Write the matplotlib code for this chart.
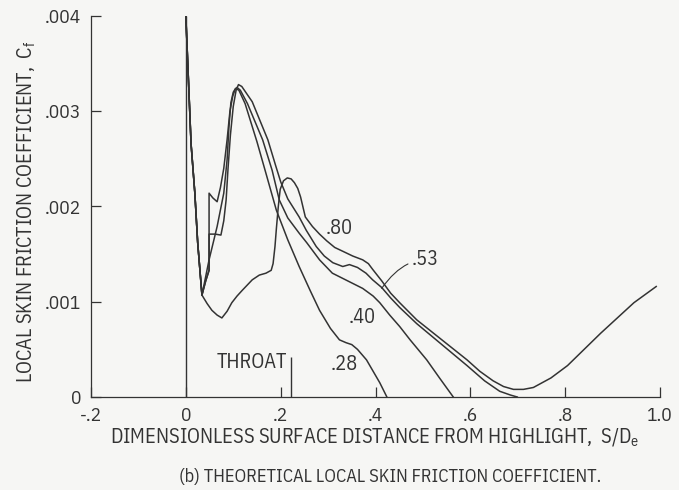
import matplotlib
matplotlib.use('Agg')
import matplotlib.pyplot as plt

# surface distance S/De and local skin friction Cf, one pair per throat Mach number
s_28 = [0.0, 0.011, 0.019, 0.025, 0.034, 0.049, 0.066, 0.080, 0.087, 0.091, 0.095, 0.100,
        0.105, 0.112, 0.125, 0.150, 0.170, 0.191, 0.215, 0.239, 0.262, 0.282, 0.305, 0.324,
        0.338, 0.350, 0.362, 0.381, 0.395, 0.409, 0.418, 0.424]
cf_28 = [0.0040, 0.00266, 0.00214, 0.00162, 0.00107, 0.00144, 0.00179, 0.00214, 0.00249,
         0.00284, 0.00309, 0.00320, 0.00324, 0.00322, 0.00308, 0.00268, 0.00233, 0.00196,
         0.00165, 0.00137, 0.00112, 0.00091, 0.00072, 0.00060, 0.00057, 0.00055, 0.00050,
         0.00039, 0.00027, 0.00015, 0.00006, 0.0]

s_40 = [0.0, 0.011, 0.019, 0.025, 0.034, 0.042, 0.049, 0.049, 0.057, 0.066, 0.073, 0.080,
        0.087, 0.093, 0.099, 0.104, 0.108, 0.115, 0.130, 0.162, 0.182, 0.197, 0.215, 0.239,
        0.255, 0.282, 0.309, 0.345, 0.373, 0.395, 0.409, 0.430, 0.451, 0.473, 0.508, 0.535,
        0.564]
cf_40 = [0.0040, 0.00266, 0.00214, 0.00162, 0.00107, 0.00122, 0.00133, 0.00214, 0.00209,
         0.00205, 0.00220, 0.00240, 0.00270, 0.00300, 0.00316, 0.00323, 0.00325, 0.00322,
         0.00308, 0.00270, 0.00238, 0.00207, 0.00188, 0.00172, 0.00162, 0.00144, 0.00130,
         0.00121, 0.00114, 0.00106, 0.00099, 0.00086, 0.00074, 0.00060, 0.00039, 0.00020, 0.0]

s_53 = [0.0, 0.011, 0.019, 0.025, 0.034, 0.042, 0.049, 0.049, 0.062, 0.074, 0.080, 0.085,
        0.089, 0.094, 0.100, 0.106, 0.111, 0.118, 0.140, 0.173, 0.190, 0.200, 0.215, 0.239,
        0.254, 0.275, 0.292, 0.310, 0.331, 0.345, 0.362, 0.380, 0.394, 0.413, 0.432, 0.451,
        0.487, 0.540, 0.593, 0.630, 0.662, 0.685, 0.699]
cf_53 = [0.0040, 0.00266, 0.00214, 0.00162, 0.00107, 0.00122, 0.00133, 0.00171, 0.00171,
         0.00170, 0.00185, 0.00207, 0.00240, 0.00275, 0.00305, 0.00322, 0.00328, 0.00326,
         0.00310, 0.00270, 0.00242, 0.00226, 0.00208, 0.00189, 0.00175, 0.00158, 0.00148,
         0.00141, 0.00137, 0.00139, 0.00136, 0.00130, 0.00123, 0.00115, 0.00104, 0.00094,
         0.00077, 0.00055, 0.00033, 0.00017, 0.00006, 0.00002, 0.0]

s_80 = [0.0, 0.011, 0.019, 0.025, 0.034, 0.045, 0.055, 0.066, 0.076, 0.087, 0.097, 0.108,
        0.119, 0.140, 0.155, 0.169, 0.180, 0.184, 0.188, 0.191, 0.195, 0.199, 0.206, 0.214,
        0.222, 0.229, 0.236, 0.242, 0.252, 0.267, 0.282, 0.297, 0.314, 0.331, 0.352, 0.373,
        0.385, 0.394, 0.413, 0.432, 0.451, 0.487, 0.540, 0.593, 0.620, 0.648, 0.670, 0.691,
        0.712, 0.733, 0.770, 0.805, 0.840, 0.875, 0.910, 0.945, 0.992]
cf_80 = [0.0040, 0.00266, 0.00214, 0.00162, 0.00107, 0.00098, 0.00091, 0.00086, 0.00083,
         0.00090, 0.00099, 0.00106, 0.00112, 0.00123, 0.00128, 0.00130, 0.00133, 0.00140,
         0.00158, 0.00177, 0.00200, 0.00218, 0.00227, 0.00230, 0.00229, 0.00225, 0.00219,
         0.00210, 0.00189, 0.00179, 0.00171, 0.00164, 0.00157, 0.00153, 0.00148, 0.00144,
         0.00140, 0.00134, 0.00122, 0.00109, 0.00099, 0.00081, 0.00060, 0.00039, 0.00027,
         0.00017, 0.00011, 0.00008, 0.00008, 0.00010, 0.00020, 0.00033, 0.00050, 0.00067,
         0.00083, 0.00099, 0.00116]

curves = [(s_28, cf_28), (s_40, cf_40), (s_53, cf_53), (s_80, cf_80)]

x_ticks = [-0.2, 0.0, 0.2, 0.4, 0.6, 0.8, 1.0]
x_tick_labels = ['-.2', '0', '.2', '.4', '.6', '.8', '1.0']
y_ticks = [0.0, 0.001, 0.002, 0.003, 0.004]
y_tick_labels = ['0', '.001', '.002', '.003', '.004']

highlight_s = 0.0
throat_s = 0.222
throat_mark_top = 0.00042

plt.rcParams['font.family'] = ['IBM Plex Sans Condensed', 'PT Sans Narrow', 'DejaVu Sans']
plt.rcParams['font.size'] = 14.7
plt.rcParams['mathtext.default'] = 'regular'

ink = '#333333'
paper = '#f6f6f4'

fig = plt.figure(figsize=(6.79, 4.90), dpi=100, facecolor=paper)
ax = fig.add_axes([91 / 679, 93 / 490, 569 / 679, 381 / 490])
ax.set_facecolor(paper)

for s, cf in curves:
    ax.plot(s, cf, color=ink, lw=1.1, solid_joinstyle='round')

ax.vlines(highlight_s, 0, y_ticks[-1], color=ink, lw=1.0)
ax.vlines(throat_s, 0, throat_mark_top, color=ink, lw=1.0)

ax.set_xlim(-0.2, 1.0)
ax.set_ylim(0, 0.004)
ax.set_xticks(x_ticks)
ax.set_xticklabels(x_tick_labels)
ax.set_yticks(y_ticks)
ax.set_yticklabels(y_tick_labels)
ax.tick_params(direction='in', length=7, width=0.9, color=ink, labelcolor=ink,
               labelsize=14)
ax.tick_params(axis='x', pad=7)
ax.tick_params(axis='y', pad=7)
for side in ['top', 'right']:
    ax.spines[side].set_visible(False)
for side in ['left', 'bottom']:
    ax.spines[side].set_color(ink)
    ax.spines[side].set_linewidth(0.9)

# curve labels
ax.text(0.324, 0.00177, '.80', color=ink, ha='center', va='center')
ax.text(0.371, 0.00083, '.40', color=ink, ha='center', va='center')
ax.text(0.335, 0.00034, '.28', color=ink, ha='center', va='center')
ax.annotate('.53', xy=(0.413, 0.00114), xytext=(0.477, 0.00144), color=ink,
            ha='left', va='center',
            arrowprops=dict(arrowstyle='-', color=ink, lw=0.8, shrinkA=1, shrinkB=0,
                            connectionstyle='angle3,angleA=0,angleB=55'))
ax.text(0.139, 0.00036, 'THROAT', color=ink, ha='center', va='center')

fig.text(375 / 679, 1 - 443 / 490,
         'DIMENSIONLESS SURFACE DISTANCE FROM HIGHLIGHT,  S/D$_e$',
         color=ink, ha='center', va='baseline')
fig.text(27 / 679, 1 - 212 / 490, 'LOCAL SKIN FRICTION COEFFICIENT,  C$_f$',
         color=ink, rotation=90, ha='center', va='center')
fig.text(390 / 679, 1 - 482 / 490, '(b) THEORETICAL LOCAL SKIN FRICTION COEFFICIENT.',
         color=ink, ha='center', va='baseline', fontsize=13.2)

fig.savefig('out.png', dpi=100, facecolor=paper)
